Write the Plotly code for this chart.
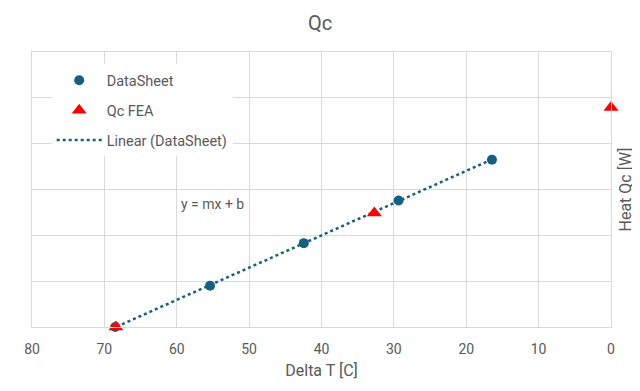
import numpy as np
import plotly.graph_objects as go

# Data
ds_delta_t = [68.5, 55.4, 42.45, 29.35, 16.45]
ds_heat = [0.0, 0.90, 1.83, 2.76, 3.65]

fea_delta_t = [68.4, 32.7, 0.0]
fea_heat = [0.0, 2.49, 4.79]

x_ticks = [80, 70, 60, 50, 40, 30, 20, 10, 0]

# Linear trendline (least squares fit of the DataSheet series)
m, b = np.polyfit(ds_delta_t, ds_heat, 1)
trend_x = [min(ds_delta_t), max(ds_delta_t)]
trend_y = [m * v + b for v in trend_x]

BLUE = "#156082"
RED = "#FF0000"
GRAY = "#595959"
GRID = "#D9D9D9"
FONT = "Roboto, Arial, sans-serif"

# the page body has an 8px margin, so the figure is sized to fit inside it
W, H = 632, 383

fig = go.Figure()
fig.add_trace(go.Scatter(
    x=trend_x, y=trend_y, mode="lines", name="Linear (DataSheet)",
    line=dict(color=BLUE, width=2.5, dash="dot"),
    cliponaxis=False, legendgroup="c", legendrank=3,
))
fig.add_trace(go.Scatter(
    x=ds_delta_t, y=ds_heat, mode="markers", name="DataSheet",
    marker=dict(symbol="circle", size=10, color=BLUE),
    cliponaxis=False, legendgroup="a", legendrank=1,
))
fig.add_trace(go.Scatter(
    x=fea_delta_t, y=fea_heat, mode="markers", name="Qc FEA",
    marker=dict(symbol="triangle-up", size=13, color=RED),
    cliponaxis=False, legendgroup="b", legendrank=2,
))

fig.add_annotation(
    x=55.0, y=2.69, text="y = mx + b", showarrow=False,
    font=dict(family=FONT, size=14, color=GRAY),
)
# right-hand axis title
fig.add_annotation(
    xref="paper", yref="paper", x=1, y=0.5, xshift=14,
    text="Heat Qc [W]", textangle=-90, showarrow=False,
    xanchor="center", yanchor="middle",
    font=dict(family=FONT, size=16, color=GRAY),
)

fig.update_layout(
    width=W, height=H,
    margin=dict(l=24, r=29, t=44, b=64, autoexpand=False),
    paper_bgcolor="white", plot_bgcolor="white",
    font=dict(family=FONT, color=GRAY, size=14),
    title=dict(text="Qc", x=0.4937, xanchor="center", yref="container",
               y=0.98, yanchor="top",
               font=dict(family=FONT, size=20, color=GRAY)),
    showlegend=True,
    legend=dict(
        x=0.034, y=0.955, xanchor="left", yanchor="top",
        bgcolor="white", borderwidth=0,
        font=dict(family=FONT, size=14.5, color=GRAY),
        traceorder="grouped", tracegroupgap=8, itemwidth=45,
    ),
    xaxis=dict(
        range=[80, 0], tickvals=x_ticks, ticktext=[str(v) for v in x_ticks],
        showgrid=True, gridcolor=GRID, gridwidth=1,
        showline=True, linecolor=GRID, linewidth=1, mirror=True,
        zeroline=False, ticks="outside", ticklen=9, tickcolor="rgba(0,0,0,0)",
        automargin=False,
        tickfont=dict(family=FONT, size=14, color=GRAY),
        title=dict(text="Delta T [C]", standoff=9,
                   font=dict(family=FONT, size=16, color=GRAY)),
    ),
    yaxis=dict(
        range=[0, 6], dtick=1, side="right",
        showgrid=True, gridcolor=GRID, gridwidth=1,
        showline=True, linecolor=GRID, linewidth=1, mirror=True,
        zeroline=False, showticklabels=False, ticks="",
        automargin=False,
    ),
)

fig.write_html("out.html")
